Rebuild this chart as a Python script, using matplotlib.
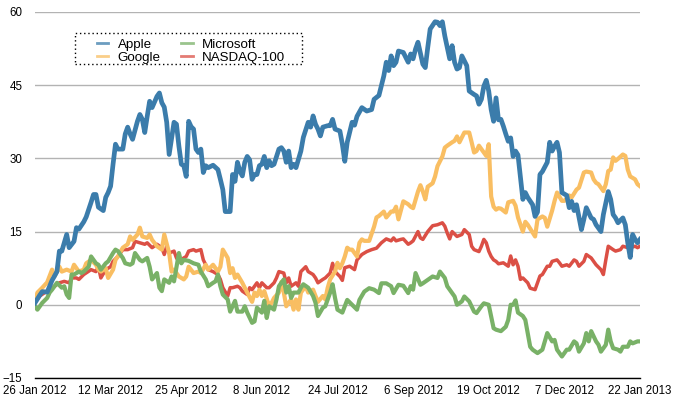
# -*- coding: utf-8 -*-
"""
Performance comparée : Apple, Google, Microsoft et NASDAQ-100 (jan 2012 - jan 2013)
"""
import matplotlib
matplotlib.use('Agg')
import matplotlib.pyplot as plt
from matplotlib.patches import Rectangle

plt.rcParams['font.family'] = ['Liberation Sans', 'DejaVu Sans']

# =============================================================================
# Données : jour de bourse (0 = 26 jan 2012) et variation en %
# =============================================================================
apple_t = [0, 2, 3, 5, 7, 9, 10, 11, 13, 14, 16, 17, 18, 20, 21, 23, 24, 25, 26, 28,
           29, 30, 31, 32, 33, 34, 36, 37, 38, 39, 40, 42, 43, 44, 45, 46, 47, 48, 50, 51,
           52, 53, 54, 55, 57, 58, 59, 60, 61, 62, 63, 64, 65, 66, 67, 68, 69, 70, 71, 73,
           75, 76, 77, 78, 80, 81, 82, 83, 84, 85, 86, 87, 88, 89, 90, 91, 92, 93, 94, 95,
           96, 97, 98, 100, 101, 102, 103, 104, 105, 106, 107, 109, 110, 112, 113, 114, 115,
           116, 117, 118, 120, 121, 122, 123, 125, 126, 127, 128, 130, 131, 132, 134, 136,
           138, 139, 141, 143, 144, 145, 146, 147, 148, 149, 151, 153, 154, 155, 156, 157,
           159, 160, 161, 162, 164, 165, 166, 167, 168, 170, 171, 172, 173, 174, 175, 177,
           178, 180, 181, 182, 183, 184, 185, 186, 187, 188, 189, 190, 191, 192, 193, 194,
           195, 196, 197, 198, 199, 200, 201, 202, 204, 205, 206, 207, 208, 210, 211, 212,
           213, 214, 215, 216, 218, 219, 220, 221, 222, 224, 225, 226, 228, 229, 230, 232,
           233, 235, 236, 237, 238, 239, 241, 242, 243, 244, 245, 246, 247, 248]
apple = [0.4, 2.0, 2.7, 2.6, 5.0, 6.8, 11.0, 11.0, 14.4, 11.7, 13.0, 15.8, 15.5, 17.0, 18.0,
         21.0, 22.6, 22.6, 20.0, 19.3, 22.0, 23.0, 24.3, 28.8, 32.9, 31.9, 31.9, 35.0, 36.4,
         35.0, 33.9, 37.6, 39.0, 38.0, 35.3, 38.6, 41.7, 40.4, 42.7, 43.4, 41.4, 40.5, 37.4,
         30.8, 37.4, 37.0, 32.5, 28.8, 28.5, 26.3, 37.6, 36.5, 36.0, 31.9, 31.2, 31.9, 27.1,
         28.5, 28.1, 28.6, 27.7, 25.7, 23.6, 19.1, 19.1, 26.7, 25.3, 29.2, 27.4, 26.4, 29.2,
         30.4, 29.7, 25.7, 26.7, 26.7, 28.5, 28.8, 30.4, 28.1, 29.5, 28.5, 28.8, 31.9, 32.2,
         31.5, 29.2, 31.5, 28.1, 28.8, 28.1, 31.5, 34.3, 37.4, 36.4, 38.7, 37.0, 36.0, 34.6,
         36.4, 36.7, 36.7, 38.0, 36.0, 35.6, 32.9, 29.4, 33.3, 37.4, 36.8, 38.6, 40.4, 39.7,
         40.0, 42.1, 42.9, 46.9, 49.7, 48.0, 51.0, 49.0, 49.7, 52.0, 51.7, 49.7, 51.4, 50.4,
         52.4, 53.8, 49.3, 48.6, 52.7, 56.5, 58.0, 57.9, 57.2, 58.0, 55.1, 50.4, 53.1, 49.7,
         48.3, 48.6, 51.0, 49.0, 43.8, 43.1, 42.8, 41.1, 42.1, 44.8, 46.0, 43.8, 40.0, 37.6,
         42.4, 37.9, 38.0, 36.6, 35.0, 33.5, 34.2, 30.4, 31.5, 30.7, 26.1, 21.6, 23.0, 22.0,
         20.5, 18.1, 19.0, 26.7, 27.3, 29.2, 33.3, 31.5, 32.5, 33.3, 31.2, 23.0, 22.4, 19.9,
         21.2, 19.3, 20.5, 15.4, 17.5, 19.9, 17.8, 17.5, 16.4, 15.0, 18.5, 23.2, 21.6, 18.5,
         17.8, 16.8, 17.8, 16.4, 12.7, 9.7, 14.4, 13.4, 12.7, 13.4]

google_t = [0, 1, 3, 5, 7, 8, 10, 11, 13, 15, 16, 18, 20, 21, 23, 25, 26, 27, 29, 30,
            32, 33, 34, 36, 38, 39, 40, 42, 43, 44, 46, 47, 48, 50, 52, 53, 55, 56, 57, 59,
            61, 62, 63, 65, 67, 68, 70, 71, 73, 75, 76, 77, 79, 80, 81, 82, 83, 85, 86, 87,
            89, 90, 91, 92, 93, 94, 96, 97, 98, 100, 101, 102, 103, 105, 106, 107, 108, 109,
            111, 112, 114, 115, 116, 118, 119, 120, 121, 123, 124, 125, 126, 127, 128, 129,
            130, 132, 133, 134, 135, 137, 139, 140, 141, 143, 144, 146, 147, 148, 149, 151,
            153, 154, 155, 157, 158, 159, 160, 161, 163, 164, 165, 167, 168, 169, 171, 172,
            173, 174, 175, 176, 178, 179, 180, 181, 182, 184, 185, 186, 187, 188, 189, 190,
            191, 193, 194, 196, 197, 198, 200, 201, 202, 204, 205, 206, 208, 209, 210, 212,
            213, 214, 216, 217, 219, 220, 222, 223, 225, 226, 228, 229, 230, 231, 233, 234,
            235, 236, 237, 238, 239, 241, 242, 243, 244, 246, 247, 248]
google = [0.6, 2.5, 3.5, 4.6, 7.2, 5.8, 7.8, 6.8, 7.2, 6.8, 8.2, 6.8, 7.2, 8.5, 9.2, 8.2,
          7.2, 6.8, 7.5, 5.5, 7.2, 9.2, 9.9, 11.7, 12.4, 14.0, 13.3, 14.4, 15.8, 14.0, 13.7,
          14.4, 13.3, 12.0, 11.3, 14.4, 10.6, 6.8, 7.2, 5.8, 5.2, 5.8, 7.8, 6.5, 6.8, 6.5,
          8.2, 7.2, 8.2, 6.8, 7.8, 11.3, 9.6, 6.5, 7.5, 5.5, 6.2, 4.5, 3.5, 2.5, 0.6, 2.5,
          1.8, 3.1, 1.8, 2.8, -0.3, 0.4, 1.4, 2.5, 4.7, 2.5, -0.3, 1.1, -1.0, 1.1, -1.0, 2.5,
          3.8, 2.5, 3.1, 1.8, 0.6, 1.8, 1.1, 3.5, 5.2, 6.8, 8.6, 7.5, 8.5, 9.9, 11.7, 11.3,
          11.3, 9.9, 12.7, 13.4, 13.1, 13.1, 16.0, 17.9, 18.2, 19.1, 17.9, 19.1, 19.1, 20.1,
          17.5, 21.2, 20.6, 20.1, 19.8, 23.2, 24.5, 23.2, 21.6, 24.2, 24.9, 26.3, 28.4, 30.4,
          32.2, 32.6, 33.3, 33.6, 34.5, 33.3, 34.3, 35.3, 35.3, 33.3, 31.2, 31.5, 32.6, 31.2,
          30.5, 32.9, 22.2, 20.1, 19.5, 19.8, 19.7, 18.9, 21.0, 21.3, 20.3, 17.9, 15.0, 17.0,
          16.4, 14.8, 14.0, 17.5, 18.1, 17.8, 16.0, 19.3, 21.3, 23.0, 21.3, 21.3, 22.4, 22.0,
          23.6, 24.0, 27.1, 27.3, 27.1, 25.7, 25.0, 24.7, 23.3, 24.7, 27.4, 27.7, 30.2, 29.5,
          29.9, 30.8, 30.5, 27.7, 26.3, 25.7, 24.7, 24.3]

microsoft_t = [0, 1, 3, 5, 6, 7, 9, 11, 12, 13, 14, 15, 16, 18, 19, 20, 22, 23, 25, 26,
               27, 29, 30, 32, 33, 34, 36, 37, 39, 40, 41, 43, 44, 46, 47, 48, 50, 51, 52, 53,
               55, 56, 57, 59, 60, 61, 63, 65, 67, 68, 70, 71, 73, 74, 75, 76, 77, 79, 80, 82,
               83, 85, 86, 87, 89, 90, 91, 93, 94, 95, 96, 98, 99, 100, 102, 103, 104, 105,
               106, 108, 109, 110, 112, 114, 115, 116, 118, 119, 121, 122, 123, 124, 126, 127,
               128, 130, 132, 133, 135, 137, 139, 141, 142, 144, 146, 147, 149, 151, 153, 154,
               155, 156, 158, 159, 161, 163, 165, 166, 168, 169, 171, 172, 173, 175, 176, 178,
               180, 181, 183, 184, 186, 187, 188, 189, 191, 193, 194, 195, 196, 197, 198, 200,
               201, 202, 203, 204, 206, 208, 209, 210, 212, 213, 214, 215, 216, 218, 219, 221,
               222, 223, 225, 226, 227, 228, 230, 231, 232, 234, 235, 236, 237, 239, 240, 241,
               243, 244, 245, 247, 248]
microsoft = [-0.3, -1.0, 0.4, 1.4, 2.5, 3.1, 4.5, 3.5, 3.8, 2.1, 1.4, 6.2, 6.2, 6.8, 6.5,
             6.8, 7.8, 9.9, 8.5, 8.2, 7.2, 8.5, 8.9, 10.6, 11.3, 11.0, 9.6, 8.5, 8.2, 8.5,
             10.6, 9.2, 8.9, 9.6, 7.8, 5.2, 6.5, 3.5, 2.8, 5.2, 4.5, 5.8, 4.8, 10.6, 8.5, 9.2,
             9.0, 8.5, 8.2, 6.8, 5.2, 3.8, 4.5, 4.8, 6.2, 3.8, 2.1, 1.1, -1.4, 0.8, -1.4, -1.4,
             -0.3, -1.6, -3.7, -3.4, -0.6, -1.6, 0.8, -2.7, -0.3, -1.0, 1.1, 3.8, 5.2, 2.5,
             3.8, 1.4, 2.5, 2.5, 3.5, 4.2, 3.5, 1.8, 0.4, -2.3, -0.6, -0.3, 2.5, 4.2, 1.4,
             -1.0, -1.6, -0.3, 1.0, 0.0, -1.0, 1.0, 2.7, 3.4, 3.1, 2.4, 4.4, 4.4, 3.8, 2.4,
             4.1, 3.9, 2.4, 3.8, 3.1, 6.5, 4.1, 4.4, 5.1, 5.8, 5.5, 6.8, 5.5, 3.8, 2.4, 1.7,
             0.0, 0.7, 1.7, 0.7, -1.4, -1.7, -0.3, 0.3, 0.0, -2.4, -4.8, -5.1, -5.4, -4.5,
             -3.1, 0.0, 0.0, 0.9, -1.6, -2.3, -3.1, -5.8, -8.6, -9.2, -9.9, -9.2, -7.5, -5.8,
             -7.5, -7.2, -9.2, -9.9, -10.6, -9.2, -9.2, -7.5, -7.9, -9.6, -7.9, -5.8, -7.5,
             -5.4, -7.5, -8.2, -9.6, -8.2, -5.1, -7.5, -8.9, -9.2, -9.6, -8.6, -8.6, -7.5,
             -7.9, -7.5, -7.5]

nasdaq_t = [0, 2, 4, 6, 8, 10, 12, 14, 15, 17, 18, 20, 23, 25, 26, 27, 29, 31, 32, 34,
            36, 38, 40, 41, 43, 45, 46, 48, 50, 52, 53, 54, 55, 57, 58, 59, 61, 62, 63, 65,
            66, 68, 69, 71, 73, 75, 76, 77, 79, 80, 81, 83, 84, 85, 87, 88, 89, 91, 92, 93,
            95, 96, 98, 99, 100, 102, 103, 104, 105, 107, 108, 109, 111, 112, 114, 115, 116,
            118, 119, 121, 122, 123, 125, 126, 127, 129, 131, 132, 134, 136, 138, 140, 142,
            144, 146, 147, 148, 150, 151, 153, 154, 155, 157, 158, 159, 161, 163, 165, 167,
            168, 169, 170, 171, 173, 175, 176, 178, 179, 180, 182, 183, 184, 185, 186, 187,
            188, 189, 190, 192, 194, 195, 196, 197, 198, 199, 200, 202, 203, 205, 206, 207,
            208, 210, 211, 212, 214, 215, 216, 218, 219, 221, 222, 223, 225, 226, 228, 229,
            230, 232, 233, 234, 235, 237, 238, 240, 241, 243, 244, 246, 247, 248]
nasdaq = [0.5, 1.8, 2.5, 3.1, 3.8, 4.5, 4.8, 4.5, 5.5, 5.5, 5.2, 6.2, 7.2, 6.8, 7.8, 5.5,
          7.2, 7.8, 8.9, 9.9, 11.3, 11.3, 11.7, 13.0, 12.7, 12.4, 12.7, 11.7, 12.4, 11.7,
          10.3, 12.0, 10.6, 11.0, 9.6, 8.9, 9.6, 9.9, 11.0, 11.3, 11.0, 11.3, 9.2, 7.2, 6.8,
          6.2, 5.2, 3.5, 1.8, 3.5, 3.5, 3.8, 3.5, 2.8, 2.1, 3.5, 3.1, 4.5, 3.5, 4.5, 3.5,
          3.5, 4.5, 5.5, 6.8, 6.5, 4.5, 5.5, 3.8, 4.5, 3.8, 6.8, 7.8, 6.8, 6.2, 5.5, 4.5,
          5.2, 5.5, 6.5, 8.5, 6.8, 5.8, 5.0, 7.6, 7.9, 7.2, 9.2, 10.3, 10.9, 11.3, 11.6,
          12.7, 13.5, 13.1, 13.7, 13.1, 13.4, 13.5, 12.4, 12.7, 13.1, 15.0, 13.7, 13.4,
          15.0, 16.2, 16.4, 16.8, 16.1, 14.7, 13.5, 15.0, 14.0, 14.4, 15.4, 14.4, 12.0,
          11.3, 10.9, 12.0, 13.4, 12.7, 11.0, 9.9, 9.2, 8.9, 8.4, 8.6, 7.9, 10.0, 8.2, 9.2,
          7.9, 5.2, 5.5, 4.5, 3.4, 3.1, 4.5, 5.9, 6.2, 7.9, 7.9, 8.9, 9.2, 8.6, 7.9, 8.2,
          7.9, 9.2, 8.9, 7.9, 8.9, 10.3, 9.6, 8.9, 8.2, 7.2, 6.2, 9.2, 12.0, 11.3, 11.0,
          11.3, 12.0, 11.7, 11.7, 12.0, 11.7, 12.0]

# Libellés de l'axe des abscisses (un tous les 31 jours de bourse)
tick_days = [0, 31, 62, 93, 124, 155, 186, 217, 248]
tick_labels = ['26 Jan 2012', '12 Mar 2012', '25 Apr 2012', '8 Jun 2012', '24 Jul 2012',
               '6 Sep 2012', '19 Oct 2012', '7 Dec 2012', '22 Jan 2013']
y_ticks = [-15, 0, 15, 30, 45, 60]

# =============================================================================
# Tracé
# =============================================================================
fig = plt.figure(figsize=(6.74, 3.98), dpi=100)
ax = fig.add_axes([0.0519, 0.0503, 0.8976, 0.9196])

l_nas, = ax.plot(nasdaq_t, nasdaq, color='#db4f45', lw=2.5, label='NASDAQ-100', zorder=3)
l_goo, = ax.plot(google_t, google, color='#f9be62', lw=3.0, label='Google', zorder=4)
l_mic, = ax.plot(microsoft_t, microsoft, color='#79b167', lw=3.0, label='Microsoft', zorder=5)
l_app, = ax.plot(apple_t, apple, color='#3b7cab', lw=3.4, label='Apple', zorder=6)

ax.set_xlim(0, 248)
ax.set_ylim(-15, 60)
ax.set_xticks(tick_days)
ax.set_xticklabels(tick_labels)
ax.set_yticks(y_ticks)
ax.tick_params(axis='both', length=0, labelsize=8.3)
ax.tick_params(axis='y', pad=9)
ax.tick_params(axis='x', pad=5)

# Grille horizontale grise, seul l'axe du bas en noir
ax.yaxis.grid(True, color='#b3b3b3', lw=1.0)
ax.set_axisbelow(True)
for cote in ['left', 'right', 'top']:
    ax.spines[cote].set_visible(False)
ax.spines['bottom'].set_color('black')
ax.spines['bottom'].set_linewidth(1.0)
ax.spines['bottom'].set_zorder(10)

# Légende sur deux colonnes, cadre en pointillés dessiné à part
leg = ax.legend(handles=[l_app, l_goo, l_mic, l_nas], ncol=2, loc='upper left',
                bbox_to_anchor=(97 / 674, 1 - 38.5 / 398), bbox_transform=fig.transFigure,
                borderaxespad=0, borderpad=0, fontsize=9.6, frameon=False,
                handlelength=0.85, handletextpad=0.7, columnspacing=1.55,
                labelspacing=0.05)
for ligne in leg.get_lines():
    ligne.set_linewidth(2.0)
    ligne.set_alpha(0.75)

cadre = Rectangle((75 / 674, 1 - 64 / 398), 227 / 674, 31 / 398,
                  transform=fig.transFigure, fill=False, edgecolor='black',
                  linestyle=(0, (1, 2)), linewidth=1.0)
fig.patches.append(cadre)

fig.savefig('out.png', dpi=100)
